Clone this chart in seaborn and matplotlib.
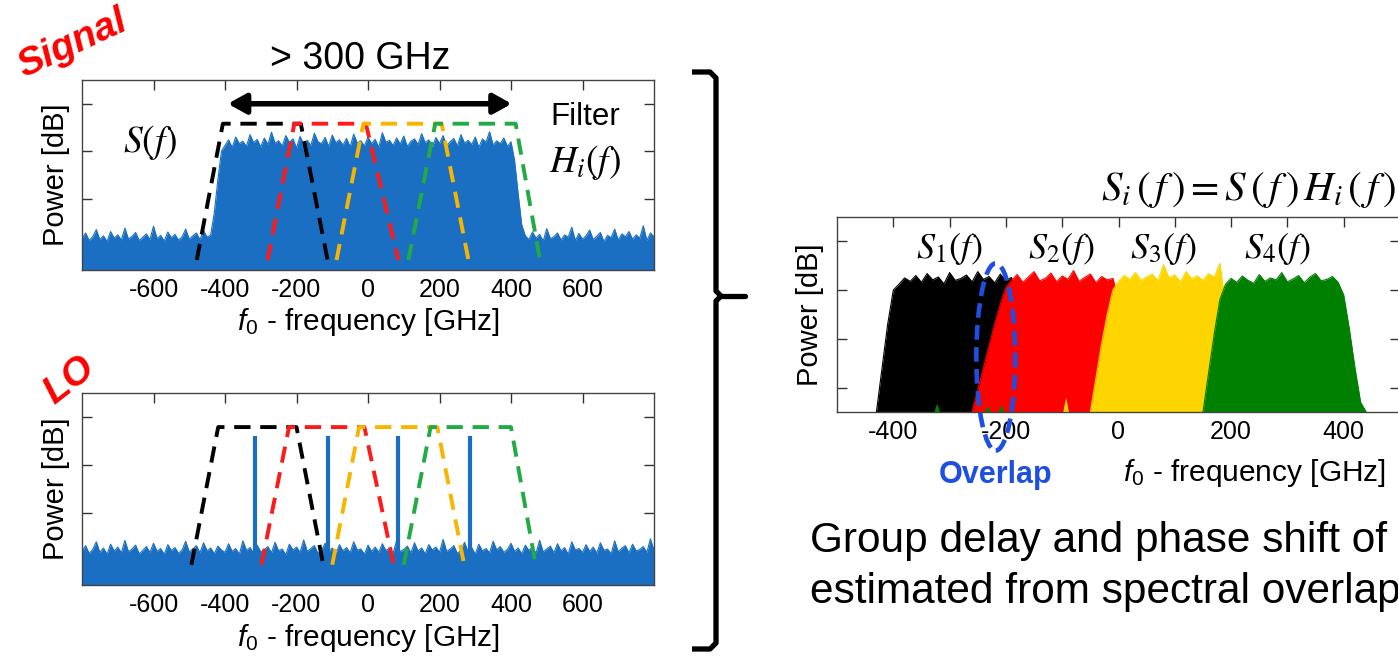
import numpy as np
import matplotlib
matplotlib.use("Agg")
import matplotlib.pyplot as plt
from matplotlib.patches import Ellipse
from matplotlib.lines import Line2D
import seaborn as sns

# ---------------- data ----------------
FREQ_START, FREQ_STEP = -800, 10  # GHz sampling of the left spectra

SIG_FLOOR_L = [0.66, 0.78, 0.62, 0.70, 0.85, 0.64, 0.72, 0.60, 0.81, 0.67, 0.74, 0.63, 0.88,
               0.65, 0.71, 0.79, 0.62, 0.69, 0.76, 0.64, 0.92, 0.66, 0.73, 0.61, 0.80, 0.68,
               0.75, 0.63, 0.70, 0.86, 0.65, 0.72, 0.78, 0.64, 0.83, 0.69, 0.74]
SIG_RAMP_L = [1.2, 1.9, 2.5]
SIG_PLATEAU = [2.62, 2.74, 2.58, 2.80, 2.66, 2.71, 2.60, 2.85, 2.68, 2.75, 2.59, 2.78, 2.64, 2.90,
               2.67, 2.72, 2.61, 2.83, 2.69, 2.76, 2.57, 2.81, 2.65, 2.73, 2.62, 2.88, 2.70, 2.66,
               2.79, 2.60, 2.84, 2.68, 2.74, 2.63, 2.77, 2.59, 2.86, 2.67, 2.72, 2.61, 2.80, 2.66,
               2.75, 2.58, 2.89, 2.69, 2.73, 2.62, 2.78, 2.65, 2.82, 2.60, 2.71, 2.76, 2.64, 2.87,
               2.68, 2.74, 2.59, 2.79, 2.66, 2.83, 2.62, 2.70, 2.77, 2.61, 2.85, 2.67, 2.73, 2.64,
               2.80, 2.58, 2.76, 2.69, 2.91, 2.63, 2.72, 2.66, 2.78, 2.60, 2.70]
SIG_RAMP_R = [2.3, 1.6, 0.95]
SIG_FLOOR_R = [0.72, 0.64, 0.80, 0.67, 0.75, 0.61, 0.87, 0.66, 0.70, 0.78, 0.63, 0.74, 0.69,
               0.90, 0.62, 0.77, 0.65, 0.72, 0.84, 0.64, 0.71, 0.79, 0.60, 0.73, 0.68, 0.86,
               0.63, 0.76, 0.70, 0.81, 0.65, 0.74, 0.67, 0.93, 0.62, 0.78, 0.70]

LO_FLOOR = [0.70, 0.82, 0.66, 0.74, 0.90, 0.68, 0.77, 0.64, 0.85, 0.71,
            0.79, 0.67, 0.93, 0.69, 0.75, 0.83, 0.65, 0.72, 0.80, 0.68,
            0.87, 0.70, 0.76, 0.64, 0.84, 0.72, 0.78, 0.66, 0.73, 0.91,
            0.69, 0.75, 0.82, 0.67, 0.88, 0.71, 0.77, 0.65, 0.81, 0.73,
            0.68, 0.86, 0.70, 0.76, 0.64, 0.92, 0.72, 0.78, 0.66, 0.83,
            0.69, 0.74, 0.80, 0.67, 0.89, 0.71, 0.75, 0.63, 0.85, 0.73,
            0.79, 0.68, 0.94, 0.70, 0.76, 0.82, 0.66, 0.72, 0.87, 0.69,
            0.77, 0.65, 0.84, 0.71, 0.78, 0.67, 0.90, 0.73, 0.75, 0.64,
            0.83, 0.70, 0.79, 0.68, 0.86, 0.72, 0.76, 0.66, 0.92, 0.69,
            0.74, 0.81, 0.67, 0.88, 0.71, 0.77, 0.65, 0.84, 0.73, 0.79,
            0.68, 0.95, 0.70, 0.75, 0.82, 0.66, 0.72, 0.89, 0.69, 0.78,
            0.64, 0.85, 0.71, 0.76, 0.67, 0.91, 0.73, 0.80, 0.68, 0.74,
            0.87, 0.70, 0.77, 0.65, 0.83, 0.72, 0.79, 0.66, 0.93, 0.69,
            0.75, 0.81, 0.67, 0.86, 0.71, 0.78, 0.64, 0.90, 0.73, 0.76,
            0.68, 0.84, 0.70, 0.79, 0.66, 0.88, 0.72, 0.75, 0.65, 0.92,
            0.69, 0.77, 0.82, 0.67, 0.85, 0.71, 0.74, 0.80, 0.68, 0.96, 0.72]

LO_LINES = [-315, -113, 85, 284]
LO_LINE_TOP = 3.1

FILTER_COLORS = ["#000000", "#ff1a1a", "#f7b500", "#22aa44"]
FILTER_X_SIG = [[-479, -406, -188, -113], [-281, -206, -6, 85],
                [-88, -13, 206, 281], [113, 188, 413, 481]]
FILTER_Y_SIG = [0.21, 3.08, 3.08, 0.21]
FILTER_X_LO = [[-494, -419, -200, -125], [-298, -221, -10, 72],
               [-100, -25, 194, 269], [100, 175, 400, 469]]
FILTER_Y_LO = [0.42, 3.29, 3.29, 0.42]

ARROW_X = [-392, 402]
ARROW_Y = 3.5

SUB_STEP = 10
S1_START = -430
S1_VALUES = [0.0, 0.9, 1.8, 2.5,
             2.62, 2.75, 2.68, 2.80, 2.66, 2.84, 2.71, 2.77, 2.63, 2.86, 2.70, 2.74, 2.81,
             2.67, 2.88, 2.72, 2.78, 2.65, 2.83, 2.70, 2.76,
             2.2, 1.7, 1.2, 0.8, 0.4, 0.15, 0.0, 0.0]
S2_START = -260
S2_VALUES = [0.0, 0.45, 0.9, 1.35, 1.8, 2.2, 2.55,
             2.70, 2.82, 2.66, 2.77, 2.88, 2.69, 2.74, 2.85, 2.67, 2.79, 2.72, 2.90, 2.68,
             2.76, 2.83, 2.65, 2.78, 2.71, 2.74,
             2.3, 1.9, 1.5, 1.1, 0.7, 0.4, 0.2, 0.05, 0.0, 0.0]
S3_START = -50
S3_VALUES = [0.0, 0.7, 1.4, 2.0, 2.5,
             2.68, 2.80, 2.72, 2.86, 2.70, 2.77, 2.83, 2.69, 3.02, 2.75, 2.81, 2.67, 2.88,
             2.73, 2.79, 2.70, 2.84, 2.76, 3.05,
             2.2, 1.8, 1.4, 1.0, 0.7, 0.4, 0.2, 0.05, 0.0, 0.0, 0.0]
S4_START = 150
S4_VALUES = [0.0, 0.8, 1.6, 2.3,
             2.62, 2.74, 2.66, 2.79, 2.70, 2.64, 2.82, 2.68, 2.75, 2.71, 2.86, 2.67, 2.73,
             2.80, 2.65, 2.77, 2.84, 2.69, 2.72, 2.78, 2.66,
             2.4, 1.7, 0.9, 0.2, 0.0]
SUB_COLORS = ["#000000", "#ff0000", "#ffd500", "#008000"]
SUB_LABELS = [r"$S_1(f)$", r"$S_2(f)$", r"$S_3(f)$", r"$S_4(f)$"]
SUB_LABEL_X = [-300, -102, 79, 282]

LEAK_X = [-322, -232, -208, -93]
LEAK_H = [0.17, 0.12, 0.15, 0.3]
LEAK_C = ["#008000", "#008000", "#008000", "#ffd500"]

OVERLAP_CENTER = (-218, 1.13)
OVERLAP_SIZE = (69, 3.84)

BLUE = "#1a6fc2"

# ---------------- style ----------------
sns.set_theme(style="ticks")
plt.rcParams["font.family"] = ["Liberation Sans", "DejaVu Sans"]
plt.rcParams["mathtext.fontset"] = "custom"
plt.rcParams["mathtext.rm"] = "Liberation Sans"
plt.rcParams["mathtext.it"] = "Liberation Sans:italic"
plt.rcParams["mathtext.bf"] = "Liberation Sans:bold"
plt.rcParams["text.color"] = "black"
plt.rcParams["axes.labelcolor"] = "black"
plt.rcParams["xtick.color"] = "black"
plt.rcParams["ytick.color"] = "black"

W, H = 1398, 657
fig = plt.figure(figsize=(W / 100, H / 100), dpi=100)
fig.patch.set_facecolor("white")


def rect(l, t, r, b):
    return [l / W, 1 - b / H, (r - l) / W, (b - t) / H]


def F(x, y):
    return x / W, 1 - y / H


def style_axes(ax, xlim, xticks, xticklabels):
    ax.set_xlim(*xlim)
    ax.set_ylim(0, 4)
    ax.set_xticks(xticks)
    ax.set_xticklabels(xticklabels)
    ax.set_yticks([0.5, 1.5, 2.5, 3.5])
    ax.set_axisbelow(True)
    ax.tick_params(direction="in", length=7, width=1, color="#333333",
                   top=True, right=True, bottom=True, left=True,
                   labelleft=False, labelsize=18, pad=6, labelcolor="black")
    for s in ax.spines.values():
        s.set_color("#444444")
        s.set_linewidth(1.0)
    ax.set_facecolor("white")
    ax.set_ylabel("Power [dB]", fontsize=21, labelpad=9, color="black")
    ax.set_xlabel(r"$f_0$ - frequency [GHz]", fontsize=21.5, labelpad=3, color="black")


def spectrum(ax, x, y, color, z=1.0):
    ax.fill_between(x, 0, y, color=color, lw=0, zorder=z)
    sns.lineplot(x=x, y=y, ax=ax, color=color, lw=0.8, estimator=None, sort=False, zorder=z + 0.01)


def filters(ax, xs, ys):
    for xx, c in zip(xs, FILTER_COLORS):
        sns.lineplot(x=xx, y=ys, ax=ax, color=c, lw=2.8, estimator=None, sort=False,
                     linestyle=(0, (4.2, 2.5)), zorder=3)


left_ticks = [-600, -400, -200, 0, 200, 400, 600]
left_labels = [str(v) for v in left_ticks]

# ---- Signal panel ----
ax1 = fig.add_axes(rect(82, 80, 654, 270))
sig = SIG_FLOOR_L + SIG_RAMP_L + SIG_PLATEAU + SIG_RAMP_R + SIG_FLOOR_R
x_sig = FREQ_START + FREQ_STEP * np.arange(len(sig))
spectrum(ax1, x_sig, np.array(sig), BLUE)
filters(ax1, FILTER_X_SIG, FILTER_Y_SIG)
ax1.annotate("", xy=(ARROW_X[1], ARROW_Y), xytext=(ARROW_X[0], ARROW_Y),
             arrowprops=dict(arrowstyle="<|-|>,head_length=0.9,head_width=0.5",
                             lw=4, color="black", shrinkA=0, shrinkB=0), zorder=4)
style_axes(ax1, (-800, 800), left_ticks, left_labels)

# ---- LO panel ----
ax2 = fig.add_axes(rect(82, 393, 654, 585))
x_lo = FREQ_START + FREQ_STEP * np.arange(len(LO_FLOOR))
spectrum(ax2, x_lo, np.array(LO_FLOOR), BLUE)
ax2.vlines(LO_LINES, 0, LO_LINE_TOP, color=BLUE, lw=3, zorder=2)
filters(ax2, FILTER_X_LO, FILTER_Y_LO)
style_axes(ax2, (-800, 800), left_ticks, left_labels)

# ---- filtered sub-spectra panel ----
ax3 = fig.add_axes(rect(837, 217, 1400, 412))
for i, (start, vals, c) in enumerate(zip([S1_START, S2_START, S3_START, S4_START],
                                         [S1_VALUES, S2_VALUES, S3_VALUES, S4_VALUES], SUB_COLORS)):
    xx = start + SUB_STEP * np.arange(len(vals))
    spectrum(ax3, xx, np.array(vals), c, z=1.0 + 0.1 * i)
for lx, lh, lc in zip(LEAK_X, LEAK_H, LEAK_C):
    ax3.fill([lx - 5, lx, lx + 5], [0, lh, 0], color=lc, lw=0, zorder=1.6)
right_ticks = [-400, -300, -200, -100, 0, 100, 200, 300, 400]
right_labels = [str(v) if v % 200 == 0 else "" for v in right_ticks]
style_axes(ax3, (-500, 500), right_ticks, right_labels)
ax3.xaxis.set_label_coords(0.742, -0.23)
ax3.add_patch(Ellipse(OVERLAP_CENTER, OVERLAP_SIZE[0], OVERLAP_SIZE[1], fill=False,
                      ec="#1f4fe0", lw=3.3, ls=(0, (3.2, 1.6)), clip_on=False, zorder=5))
for lab, lx in zip(SUB_LABELS, SUB_LABEL_X):
    ax3.text(lx, 3.35, lab, fontsize=26, ha="center", va="center", math_fontfamily="stix")

# ---------------- figure texts ----------------
fig.text(*F(360, 59), "> 300 GHz", fontsize=27, ha="center", va="center")
fig.text(*F(585, 117), "Filter", fontsize=22.5, ha="center", va="center")
fig.text(*F(585, 163), r"$H_i(f)$", fontsize=27, ha="center", va="center", math_fontfamily="stix")
fig.text(*F(150, 142), r"$S(f)$", fontsize=27, ha="center", va="center", math_fontfamily="stix")
fig.text(*F(73, 44), "Signal", fontsize=28, color="#ff0000", fontweight="bold",
         fontstyle="italic", rotation=25, ha="center", va="center")
fig.text(*F(69, 380), "LO", fontsize=28, color="#ff0000", fontweight="bold",
         fontstyle="italic", rotation=38, ha="center", va="center")
fig.text(*F(1101, 190), r"$S_i\,(\,f\,)=S\,(\,f\,)\,H_i\,(\,f\,)$", fontsize=29.5,
         ha="left", va="center", math_fontfamily="stix")
fig.text(*F(996, 475), "Overlap", fontsize=22, color="#1f4fe0", fontweight="bold",
         ha="center", va="center")
fig.text(*F(810, 541), "Group delay and phase shift of", fontsize=30.5, ha="left", va="center")
fig.text(*F(810, 592), "estimated from spectral overlap", fontsize=30.5, ha="left", va="center")

# curly bracket
bx = [692, 710, 716, 716, 721, 716, 716, 710, 692]
by = [72, 72, 78, 291, 296, 301, 643, 649, 649]
fig.add_artist(Line2D([x / W for x in bx], [1 - y / H for y in by], transform=fig.transFigure,
                      color="black", lw=3.8, solid_joinstyle="round", solid_capstyle="butt"))
fig.add_artist(Line2D([719 / W, 745 / W], [1 - 296 / H, 1 - 296 / H], transform=fig.transFigure,
                      color="black", lw=3.8, solid_capstyle="round"))

fig.savefig("out.png", dpi=100)
